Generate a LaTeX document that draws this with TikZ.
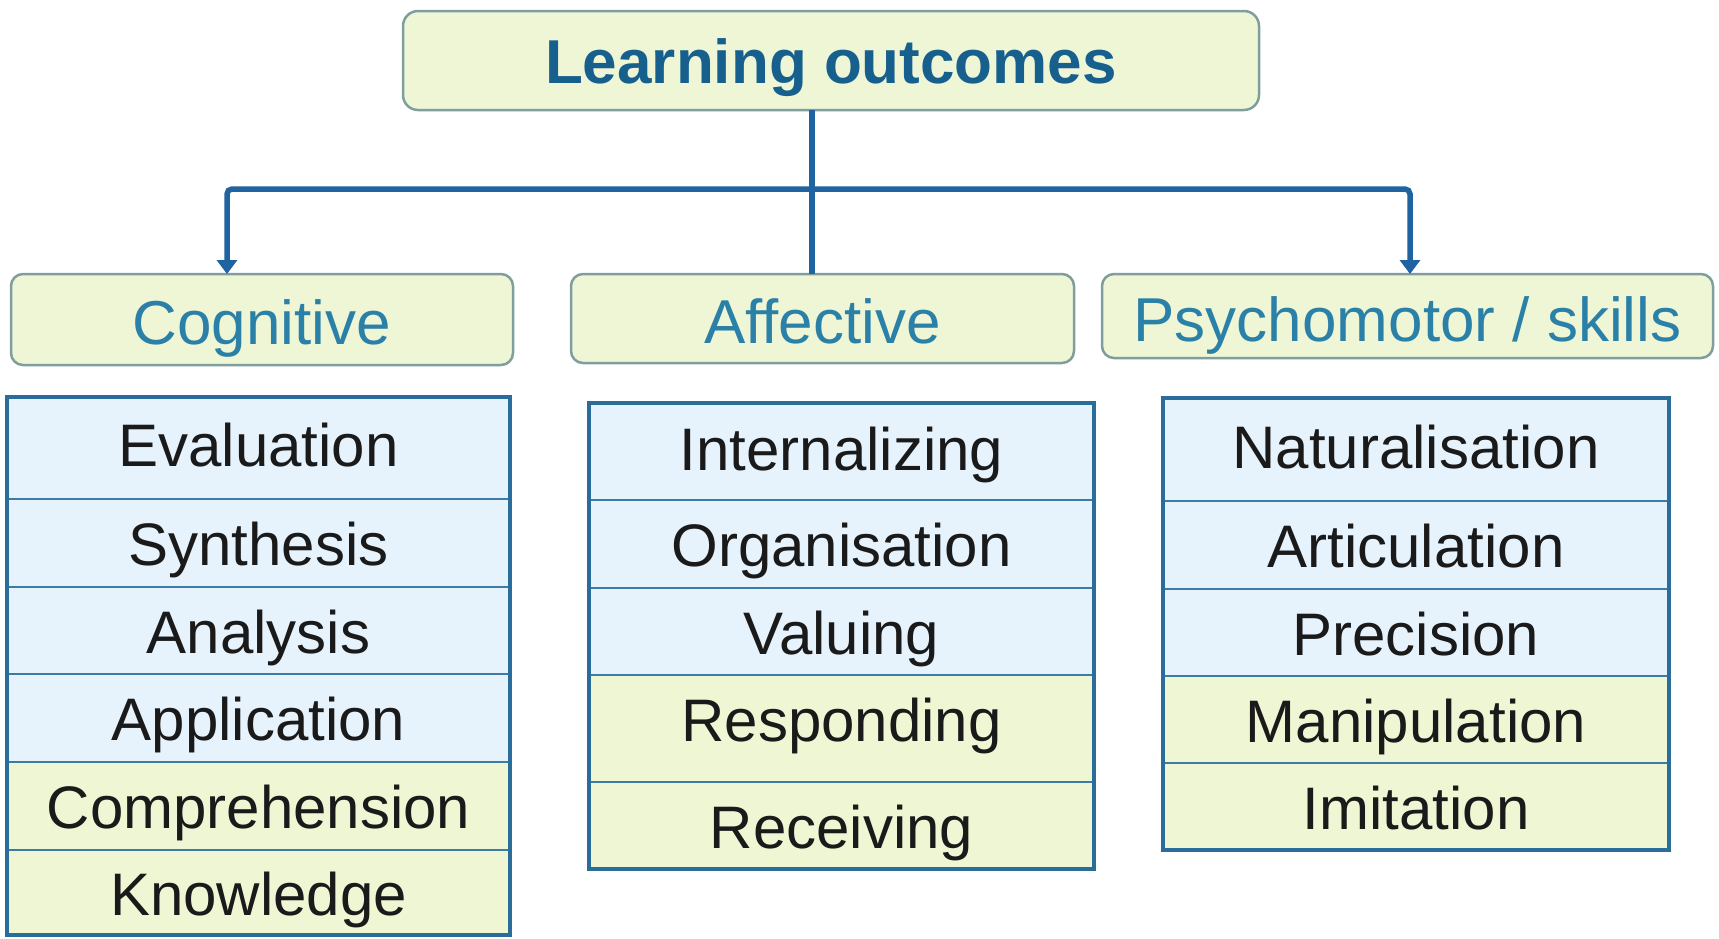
\documentclass[tikz,border=0pt]{standalone}
\usepackage{fontspec}
\setmainfont{Liberation Sans}
\usetikzlibrary{arrows.meta}
\definecolor{titleblue}{HTML}{17608E}
\definecolor{catblue}{HTML}{2B80A8}
\definecolor{catfill}{HTML}{EEF6D6}
\definecolor{catdraw}{HTML}{7F9E9E}
\definecolor{rowblue}{HTML}{E7F3FC}
\definecolor{rowyel}{HTML}{EFF6D4}
\definecolor{framec}{HTML}{2A6C9A}
\definecolor{linec}{HTML}{3C7BA3}
\definecolor{connc}{HTML}{1F63A0}
\definecolor{txt}{HTML}{1A1A1A}
\tikzset{
  titlebox/.style={draw=catdraw, line width=2.5pt, fill=catfill, rounded corners=15pt,
    inner sep=0pt, outer sep=0pt, text=titleblue,
    font=\fontsize{62}{62}\selectfont\bfseries, text height=50pt, text depth=5pt},
  catbox/.style={draw=catdraw, line width=2.5pt, fill=catfill, rounded corners=12pt,
    inner sep=0pt, outer sep=0pt, text=catblue,
    font=\fontsize{62}{62}\selectfont, text height=56pt, text depth=6pt},
  row/.style={draw=linec, line width=2.5pt, inner sep=0pt, outer sep=0pt, text=txt,
    font=\fontsize{60}{60}\selectfont, text height=45pt, text depth=0pt},
  bluerow/.style={row, fill=rowblue},
  yelrow/.style={row, fill=rowyel},
  frame/.style={draw=framec, line width=4.5pt},
  conn/.style={draw=connc, line width=5.5pt},
  connarrow/.style={conn, rounded corners=5pt, -{Triangle[width=20pt,length=14pt]}},
}
\begin{document}
\begin{tikzpicture}[x=1pt,y=-1pt]
\useasboundingbox[fill=white] (0,0) rectangle (1719,938);

% top and categories
\node[titlebox, minimum width=856pt, minimum height=99pt] (top) at (831,60.5) {Learning outcomes};
\node[catbox, minimum width=502pt, minimum height=91pt] (cog) at (262,319.5) {Cognitive};
\node[catbox, minimum width=503pt, minimum height=89pt] (aff) at (822.5,318.5) {Affective};
\node[catbox, minimum width=611pt, minimum height=84pt] (psy) at (1407.5,316) {Psychomotor / skills};

% connectors
\coordinate (j) at (812,189);
\coordinate (jl) at (227,189);
\coordinate (jr) at (1410,189);
\draw[conn] (top.south -| j) -- (aff.north -| j);
\draw[connarrow] (j) -- (jl) -- (cog.north -| jl);
\draw[connarrow] (j) -- (jr) -- (psy.north -| jr);

% Cognitive table
\node[bluerow, minimum width=503pt, minimum height=102pt, text depth=8pt] (c1) at (258.5,448) {Evaluation};
\node[bluerow, minimum width=503pt, minimum height=88pt] (c2) at (258.5,543) {Synthesis};
\node[bluerow, minimum width=503pt, minimum height=87pt] (c3) at (258.5,630.5) {Analysis};
\node[bluerow, minimum width=503pt, minimum height=88pt] (c4) at (258.5,718) {Application};
\node[yelrow, minimum width=503pt, minimum height=88pt] (c5) at (258.5,806) {Comprehension};
\node[yelrow, minimum width=503pt, minimum height=85pt] (c6) at (258.5,892.5) {Knowledge};
\draw[frame] (c1.north west) rectangle (c6.south east);

% Affective table
\node[bluerow, minimum width=505pt, minimum height=97pt, text depth=8pt] (a1) at (841.5,451.5) {Internalizing};
\node[bluerow, minimum width=505pt, minimum height=88pt] (a2) at (841.5,544) {Organisation};
\node[bluerow, minimum width=505pt, minimum height=87pt] (a3) at (841.5,631.5) {Valuing};
\node[yelrow, minimum width=505pt, minimum height=107pt, text depth=20pt] (a4) at (841.5,728.5) {Responding};
\node[yelrow, minimum width=505pt, minimum height=87pt] (a5) at (841.5,825.5) {Receiving};
\draw[frame] (a1.north west) rectangle (a5.south east);

% Psychomotor table
\node[bluerow, minimum width=506pt, minimum height=103pt, text depth=8pt] (p1) at (1416,449.5) {Naturalisation};
\node[bluerow, minimum width=506pt, minimum height=88pt] (p2) at (1416,545) {Articulation};
\node[bluerow, minimum width=506pt, minimum height=87pt] (p3) at (1416,632.5) {Precision};
\node[yelrow, minimum width=506pt, minimum height=87pt] (p4) at (1416,719.5) {Manipulation};
\node[yelrow, minimum width=506pt, minimum height=87pt] (p5) at (1416,806.5) {Imitation};
\draw[frame] (p1.north west) rectangle (p5.south east);
\end{tikzpicture}
\end{document}
